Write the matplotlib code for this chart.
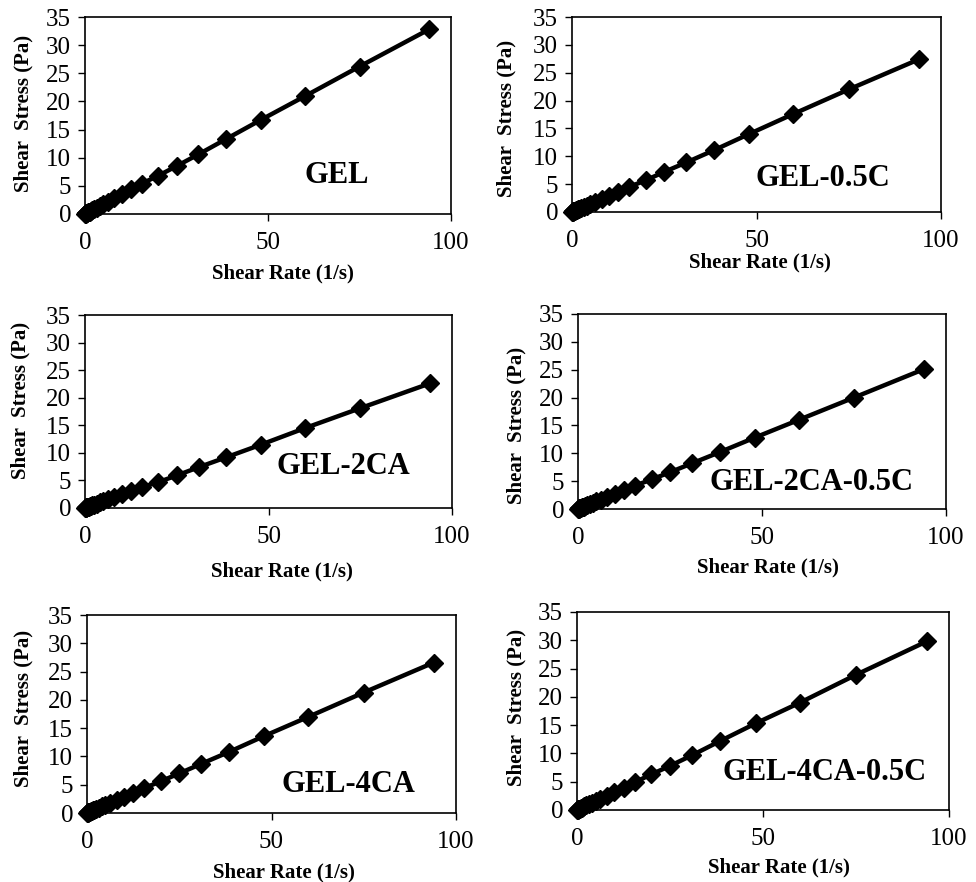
import matplotlib
matplotlib.use("Agg")
import matplotlib.pyplot as plt

plt.rcParams['font.family'] = ['Liberation Serif', 'DejaVu Serif']

# shear rates (1/s)
rate = [94, 75, 60, 48, 38.5, 31, 25, 20, 15.5, 12.5, 10, 8, 6.3, 5, 4,
        3.2, 2.5, 2, 1.6, 1.25, 1, 0.8, 0.63, 0.5, 0.4, 0.32, 0.25, 0.2, 0.1]

# shear stress (Pa) for each sample
gel = [32.8, 26.2, 20.9, 16.7, 13.3, 10.6, 8.5, 6.8, 5.4, 4.4, 3.5, 2.8, 2.2,
       1.75, 1.4, 1.1, 0.88, 0.7, 0.56, 0.44, 0.35, 0.28, 0.22, 0.18, 0.14,
       0.11, 0.09, 0.07, 0.04]
gel_05c = [27.4, 22.0, 17.6, 14.0, 11.1, 8.9, 7.2, 5.7, 4.5, 3.6, 2.9, 2.3,
           1.8, 1.45, 1.16, 0.93, 0.73, 0.58, 0.46, 0.36, 0.29, 0.23, 0.18,
           0.15, 0.12, 0.09, 0.07, 0.06, 0.03]
gel_2ca = [22.6, 18.1, 14.5, 11.5, 9.2, 7.4, 5.9, 4.7, 3.8, 3.0, 2.45, 1.95,
           1.55, 1.25, 1.0, 0.8, 0.63, 0.5, 0.4, 0.32, 0.25, 0.2, 0.16,
           0.13, 0.1, 0.08, 0.06, 0.05, 0.03]
gel_2ca_05c = [25.1, 20.0, 16.0, 12.8, 10.2, 8.2, 6.6, 5.3, 4.2, 3.4, 2.7,
               2.15, 1.7, 1.35, 1.08, 0.87, 0.68, 0.55, 0.44, 0.34, 0.27,
               0.22, 0.17, 0.14, 0.11, 0.09, 0.07, 0.05, 0.03]
gel_4ca = [26.6, 21.3, 17.0, 13.6, 10.8, 8.7, 7.0, 5.6, 4.4, 3.55, 2.85, 2.3,
           1.8, 1.43, 1.15, 0.92, 0.72, 0.58, 0.46, 0.36, 0.29, 0.23, 0.18,
           0.14, 0.11, 0.09, 0.07, 0.06, 0.03]
gel_4ca_05c = [29.8, 23.9, 19.0, 15.3, 12.2, 9.7, 7.8, 6.3, 4.9, 3.95, 3.2,
               2.55, 2.0, 1.6, 1.28, 1.02, 0.8, 0.64, 0.51, 0.4, 0.32, 0.26,
               0.2, 0.16, 0.13, 0.1, 0.08, 0.06, 0.03]

names = ['GEL', 'GEL-0.5C', 'GEL-2CA', 'GEL-2CA-0.5C', 'GEL-4CA', 'GEL-4CA-0.5C']
series = [gel, gel_05c, gel_2ca, gel_2ca_05c, gel_4ca, gel_4ca_05c]

W, H = 976, 882
# axes boxes in pixels: left, right, top, bottom
boxes = [(85, 451, 17, 214), (572, 941, 17, 212),
         (85, 452, 315, 508), (578, 946, 314, 509),
         (87, 456, 615, 813), (577, 949, 612, 810)]
# name positions in data coords
name_pos = [(68.8, 6.8), (68, 6.0), (70.4, 7.5), (63.5, 4.8), (70.9, 5.0), (66.6, 6.6)]
xlab_pos = [(0.54, -0.30), (0.51, -0.26), (0.537, -0.33), (0.516, -0.30),
            (0.534, -0.30), (0.543, -0.29)]
ylab_pos = [(-0.167, 0.51), (-0.177, 0.48), (-0.175, 0.556), (-0.167, 0.43),
            (-0.173, 0.53), (-0.164, 0.52)]

fig = plt.figure(figsize=(W / 100, H / 100), dpi=100)

for i in range(6):
    l, r, t, b = boxes[i]
    ax = fig.add_axes([l / W, 1 - b / H, (r - l) / W, (b - t) / H])
    ax.plot(rate, series[i], color='black', lw=3.2, marker='D', ms=9,
            mec='black', mfc='black', clip_on=False)
    ax.set_xlim(0, 100)
    ax.set_ylim(0, 35)
    ax.set_xticks([0, 50, 100])
    ax.set_yticks(range(0, 36, 5))
    ax.tick_params(direction='out', length=5, width=1, labelsize=18)
    ax.tick_params(axis='x', pad=8)
    ax.tick_params(axis='y', pad=5)
    for s in ax.spines.values():
        s.set_linewidth(1.2)
    ax.set_xlabel('Shear Rate (1/s)', fontsize=15, fontweight='bold')
    ax.xaxis.label.set_va('center')
    ax.xaxis.set_label_coords(*xlab_pos[i])
    ax.set_ylabel('Shear  Stress (Pa)', fontsize=15, fontweight='bold')
    ax.yaxis.label.set_va('center')
    ax.yaxis.set_label_coords(*ylab_pos[i])
    ax.text(name_pos[i][0], name_pos[i][1], names[i], fontsize=22,
            fontweight='bold', ha='center', va='center')

fig.savefig('out.png', dpi=100)
